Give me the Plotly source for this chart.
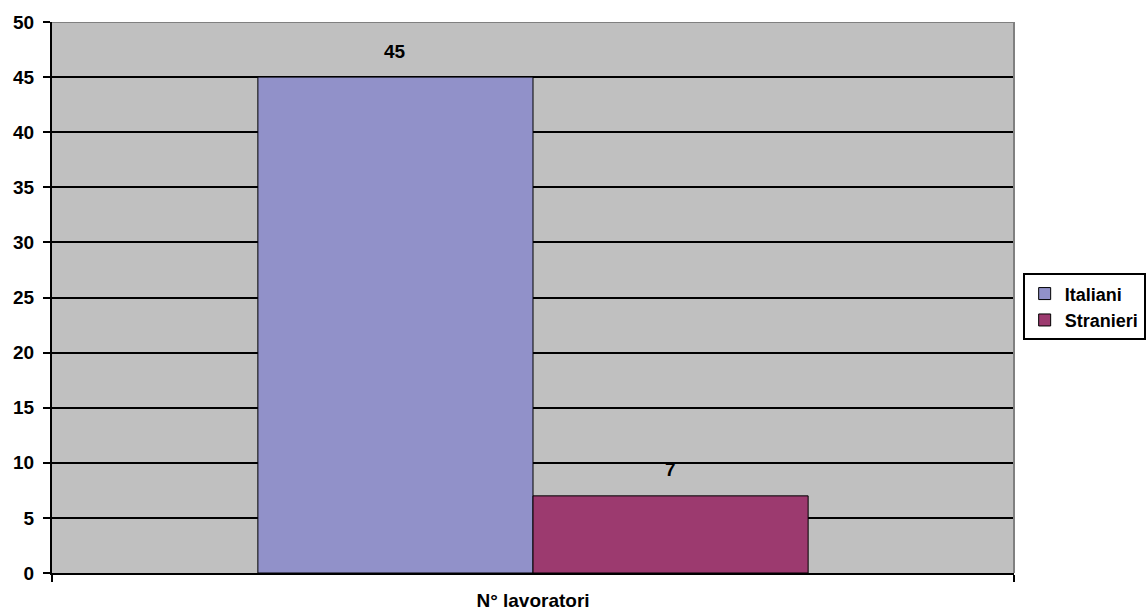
import plotly.graph_objects as go

categories = ["N° lavoratori"]
series_names = ["Italiani", "Stranieri"]
series_values = [[45], [7]]
colors = ["#9191C9", "#9C3A6F"]
y_ticks = [0, 5, 10, 15, 20, 25, 30, 35, 40, 45, 50]

font_family = "Liberation Sans, Arial, sans-serif"
fs = 19
bargap = 0.428
bar_w = (1 - bargap) / len(series_names)

fig = go.Figure()
for name, vals, col in zip(series_names, series_values, colors):
    fig.add_trace(go.Bar(
        name=f"<b>{name}</b>", x=categories, y=vals,
        marker=dict(color=col, line=dict(color="black", width=1)),
    ))

# value labels above bars
for i, vals in enumerate(series_values):
    offset = -((1 - bargap) / 2) + bar_w * (i + 0.5)
    for j, v in enumerate(vals):
        fig.add_annotation(
            x=j + offset, y=v, xref="x", yref="y", text=f"<b>{v}</b>",
            showarrow=False, yshift=26, font=dict(family=font_family, size=fs, color="black"),
        )

# top border (gray) and right border
fig.add_shape(type="line", xref="paper", yref="y", x0=0, x1=1, y0=50, y1=50,
              line=dict(color="#808080", width=2), layer="above")
fig.add_shape(type="line", xref="paper", yref="paper", x0=1, x1=1, y0=0, y1=1,
              line=dict(color="#808080", width=2), layer="above")

fig.update_layout(
    width=1148, height=614,
    margin=dict(l=52, r=134, t=22, b=41, autoexpand=False),
    paper_bgcolor="white", plot_bgcolor="#C0C0C0",
    barmode="group", bargap=bargap, bargroupgap=0,
    font=dict(family=font_family, size=fs, color="black"),
    showlegend=True,
    legend=dict(
        x=1.009, y=0.483, xanchor="left", yanchor="middle",
        bordercolor="black", borderwidth=2, bgcolor="white",
        font=dict(family=font_family, size=18, color="black"),
        tracegroupgap=0, itemwidth=30,
    ),
    xaxis=dict(
        type="category", showgrid=False, showline=True, linecolor="black", linewidth=2,
        ticks="outside", tickson="boundaries", ticklen=7, tickwidth=2, tickcolor="black",
        tickvals=categories, ticktext=[f"<b>{c}</b>" for c in categories],
        tickfont=dict(family=font_family, size=fs, color="black"),
        ticklabelstandoff=9, zeroline=False,
    ),
    yaxis=dict(
        range=[0, 50], tickvals=y_ticks, ticktext=[f"<b>{t}</b>" for t in y_ticks],
        showgrid=True, gridcolor="black", gridwidth=1.5,
        showline=True, linecolor="black", linewidth=2,
        ticks="outside", ticklen=7, tickwidth=2, tickcolor="black",
        tickfont=dict(family=font_family, size=fs, color="black"),
        ticklabelstandoff=5, zeroline=False,
    ),
)

fig.write_html("out.html")
